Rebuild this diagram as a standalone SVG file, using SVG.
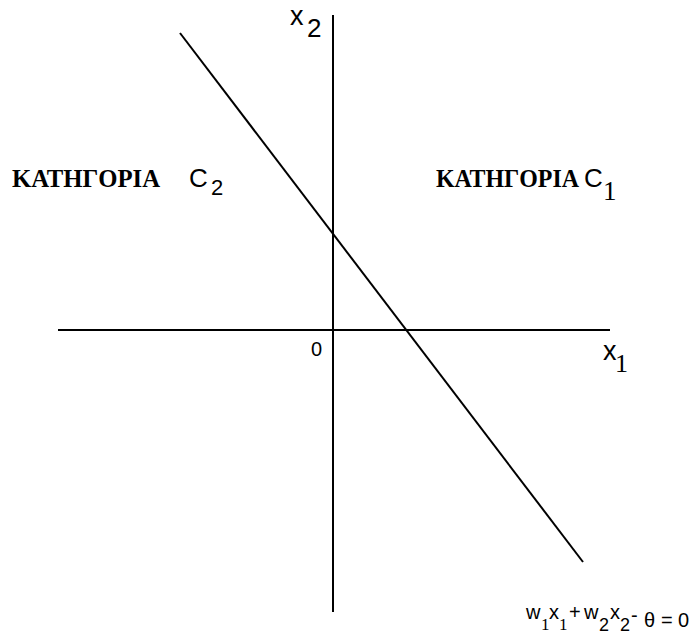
<svg xmlns="http://www.w3.org/2000/svg" width="691" height="639" viewBox="0 0 691 639">
<style>
.ax{stroke:#000;stroke-width:2;fill:none}
.cat{font-family:"Liberation Serif",serif;font-weight:bold;font-size:25px;fill:#000}
.s{font-family:"Liberation Sans",Arial,sans-serif;fill:#000}
.sr{font-family:"Liberation Serif",serif;fill:#000}
.sub{font-size:18px}
</style>
<rect width="691" height="639" fill="#fff"/>
<g id="connectors">
<line class="ax" x1="333" y1="15" x2="333" y2="612"/>
<line class="ax" x1="58" y1="330" x2="610" y2="330"/>
<line class="ax" x1="180" y1="33" x2="583" y2="562" stroke-width="1.6"/>
</g>
<g id="label-x2">
<text class="s" x="290" y="25" font-size="27">x</text>
<text class="s" x="307" y="37" font-size="26">2</text>
</g>
<g id="label-origin">
<text class="s" x="311" y="356" font-size="20">0</text>
</g>
<g id="label-x1">
<text class="s" x="603" y="360" font-size="27">x</text>
<text class="sr" x="615" y="372" font-size="26">1</text>
</g>
<g id="class-c2">
<text class="cat" x="12" y="187" textLength="148" lengthAdjust="spacingAndGlyphs">ΚΑΤΗΓΟΡΙΑ</text>
<text class="s" x="189" y="187" font-size="26">C</text>
<text class="s" x="211" y="195" font-size="22">2</text>
</g>
<g id="class-c1">
<text class="cat" x="436" y="187" textLength="143" lengthAdjust="spacingAndGlyphs">ΚΑΤΗΓΟΡΙΑ</text>
<text class="s" x="584" y="187" font-size="26">C</text>
<text class="sr" x="603" y="200" font-size="27">1</text>
</g>
<g id="equation" class="s" font-size="20">
<text x="526" y="619">w</text>
<text class="sr" x="541" y="630" font-size="17">1</text>
<text x="549" y="619">x</text>
<text class="sr" x="559" y="630" font-size="17">1</text>
<text x="569" y="619">+</text>
<text x="584" y="619">w</text>
<text class="sub" x="599" y="631">2</text>
<text x="610" y="619">x</text>
<text class="sub" x="620" y="631">2</text>
<text x="631" y="622">-</text>
<text x="644" y="627" font-size="20">θ</text>
<text x="661" y="627" font-size="20">=</text>
<text x="678" y="627" font-size="20">0</text>
</g>
</svg>
